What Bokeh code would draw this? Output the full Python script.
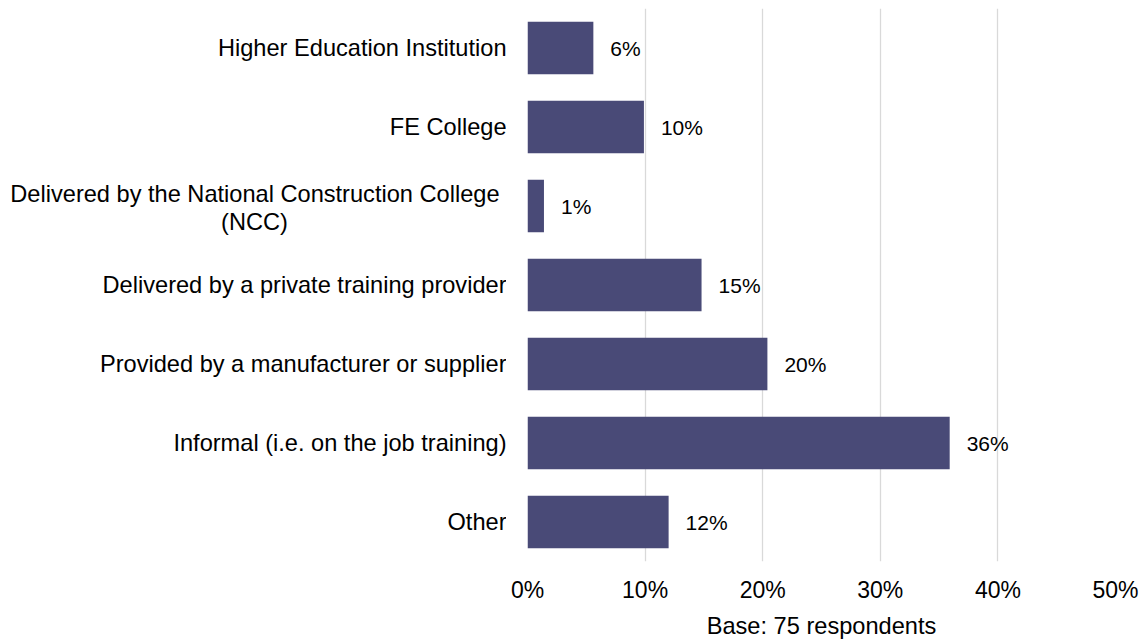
from bokeh.plotting import figure
from bokeh.layouts import row
from bokeh.models import ColumnDataSource, FixedTicker, Range1d, FactorRange
from bokeh.core.properties import value
from bokeh.embed import file_html
from bokeh.resources import INLINE

# ---- data ----
categories = [
    "Higher Education Institution",
    "FE College",
    "Delivered by the National Construction College\n(NCC)",
    "Delivered by a private training provider",
    "Provided by a manufacturer or supplier",
    "Informal (i.e. on the job training)",
    "Other",
]
values = [5.6, 9.9, 1.4, 14.8, 20.4, 35.9, 12.0]
value_labels = ["6%", "10%", "1%", "15%", "20%", "36%", "12%"]
x_ticks = [0, 10, 20, 30, 40, 50]
x_tick_labels = ["0%", "10%", "20%", "30%", "40%", "50%"]
axis_title = "Base: 75 respondents"

# ---- style / layout ----
FONT = "Liberation Sans"
BAR_COLOR = "#494A77"
GRID_COLOR = "#D9D9D9"
TEXT_COLOR = "#000000"
CAT_SIZE = "23.6px"
TICK_SIZE = "23px"
LAB_SIZE = "21px"
LEFT_W = 506
FRAME_H = 553
TOP = 8

y_range = FactorRange(factors=list(reversed(categories)))

# ---- left panel: category labels ----
left = figure(
    y_range=y_range, x_range=Range1d(0, LEFT_W),
    frame_width=LEFT_W, frame_height=FRAME_H,
    min_border_left=0, min_border_right=0, min_border_top=TOP, min_border_bottom=0,
    x_axis_location=None, y_axis_location=None,
    toolbar_location=None, output_backend="svg",
    background_fill_color="white", border_fill_color="white",
)
left.outline_line_color = None
left.xgrid.grid_line_color = None
left.ygrid.grid_line_color = None

first_lines = [c.split("\n")[0] for c in categories]
multi = ["\n" in c for c in categories]
lab_src = ColumnDataSource(dict(
    cat=categories, txt=first_lines,
    x=[LEFT_W] * len(categories),
    xo=[-7 if m else 0 for m in multi],
    yo=[-12.5 if m else 0 for m in multi],
))
left.text(x="x", y="cat", text="txt", source=lab_src, x_offset="xo", y_offset="yo",
          text_align="right", text_baseline="middle",
          text_font=value(FONT), text_font_size=CAT_SIZE, text_color=TEXT_COLOR)

sec_cats = [c for c in categories if "\n" in c]
sec_src = ColumnDataSource(dict(
    cat=sec_cats, txt=[c.split("\n")[1] for c in sec_cats],
    x=[LEFT_W] * len(sec_cats),
))
left.text(x="x", y="cat", text="txt", source=sec_src, x_offset=-252, y_offset=15.5,
          text_align="center", text_baseline="middle",
          text_font=value(FONT), text_font_size=CAT_SIZE, text_color=TEXT_COLOR)

# ---- main chart ----
p = figure(
    y_range=y_range, x_range=Range1d(0, 50),
    frame_width=588, frame_height=FRAME_H,
    min_border_left=21, min_border_right=26, min_border_top=TOP, min_border_bottom=10,
    y_axis_location=None,
    toolbar_location=None, output_backend="svg",
    background_fill_color="white", border_fill_color="white",
)
p.outline_line_color = None

src = ColumnDataSource(dict(cat=categories, val=values, lab=value_labels))
p.hbar(y="cat", left=0, right="val", height=0.665, source=src,
       fill_color=BAR_COLOR, line_color=None)

p.text(x="val", y="cat", text="lab", source=src, x_offset=17,
       text_align="left", text_baseline="middle",
       text_font=value(FONT), text_font_size=LAB_SIZE, text_color=TEXT_COLOR)

p.xaxis.ticker = FixedTicker(ticks=x_ticks)
p.xaxis.major_label_overrides = {t: l for t, l in zip(x_ticks, x_tick_labels)}
p.xaxis.axis_line_color = None
p.xaxis.major_tick_line_color = None
p.xaxis.minor_tick_line_color = None
p.xaxis.major_label_standoff = 9
p.xaxis.major_label_text_font = FONT
p.xaxis.major_label_text_font_size = TICK_SIZE
p.xaxis.major_label_text_color = TEXT_COLOR
p.xaxis.axis_label = axis_title
p.xaxis.axis_label_standoff = 7
p.xaxis.axis_label_text_font = FONT
p.xaxis.axis_label_text_font_size = CAT_SIZE
p.xaxis.axis_label_text_font_style = "normal"
p.xaxis.axis_label_text_color = TEXT_COLOR

p.xgrid.ticker = FixedTicker(ticks=x_ticks)
p.xgrid.grid_line_color = GRID_COLOR
p.xgrid.grid_line_width = 1.3
p.ygrid.grid_line_color = None

layout = row(left, p, spacing=0)
open("out.html", "w").write(file_html(layout, INLINE))
